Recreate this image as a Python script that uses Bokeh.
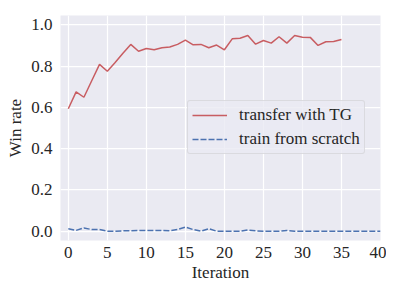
from bokeh.plotting import figure
from bokeh.models import Range1d, PrintfTickFormatter, Legend, LegendItem
from bokeh.embed import file_html
from bokeh.resources import INLINE

iterations_tg = list(range(0, 36))
win_tg = [0.593, 0.675, 0.649, 0.729, 0.808, 0.775, 0.817, 0.862, 0.905, 0.872,
          0.885, 0.879, 0.889, 0.892, 0.905, 0.926, 0.903, 0.905, 0.889, 0.902,
          0.879, 0.932, 0.935, 0.948, 0.906, 0.924, 0.911, 0.942, 0.911, 0.948,
          0.940, 0.939, 0.900, 0.918, 0.919, 0.929]

iterations_scratch = list(range(0, 41))
win_scratch = [0.012, 0.004, 0.016, 0.008, 0.008, 0.0, 0.0, 0.002, 0.002, 0.004,
               0.004, 0.004, 0.004, 0.002, 0.008, 0.020, 0.008, 0.0, 0.012, 0.0,
               0.0, 0.0, 0.0, 0.006, 0.002, 0.0, 0.0, 0.0, 0.004, 0.0,
               0.0, 0.0, 0.0, 0.0, 0.0, 0.0, 0.0, 0.0, 0.0, 0.0, 0.0]

x_ticks = [0, 5, 10, 15, 20, 25, 30, 35, 40]
y_ticks = [0.0, 0.2, 0.4, 0.6, 0.8, 1.0]

FONT = "Liberation Serif"
TEXT = "#262626"

p = figure(frame_width=320, frame_height=225, output_backend="svg", toolbar_location=None,
           x_range=Range1d(-1, 40), y_range=Range1d(-0.045, 1.045),
           min_border_left=60, min_border_right=6, min_border_top=15, min_border_bottom=46)

p.background_fill_color = "#EAEAF2"
p.border_fill_color = "white"
p.outline_line_color = None

for g in (p.xgrid, p.ygrid):
    g.grid_line_color = "white"
    g.grid_line_width = 1.25

p.xaxis.ticker = x_ticks
p.yaxis.ticker = y_ticks
p.yaxis.formatter = PrintfTickFormatter(format="%.1f")

for ax in (p.xaxis[0], p.yaxis[0]):
    ax.axis_line_color = None
    ax.major_tick_line_color = None
    ax.minor_tick_line_color = None
    ax.major_tick_out = 0
    ax.major_tick_in = 0
    ax.minor_tick_out = 0
    ax.minor_tick_in = 0
    ax.major_label_text_font = FONT
    ax.major_label_text_font_style = "normal"
    ax.major_label_text_font_size = "17px"
    ax.major_label_text_color = TEXT
    ax.axis_label_text_font = FONT
    ax.axis_label_text_font_size = "17px"
    ax.axis_label_text_font_style = "normal"
    ax.axis_label_text_color = TEXT

p.xaxis.axis_label = "Iteration"
p.yaxis.axis_label = "Win rate"
p.xaxis.major_label_standoff = 6
p.xaxis.axis_label_standoff = 2
p.yaxis.major_label_standoff = 8
p.yaxis.axis_label_standoff = 3

r1 = p.line(iterations_tg, win_tg, line_color="#C44E52", line_width=1.5, line_alpha=0.9)
r2 = p.line(iterations_scratch, win_scratch, line_color="#4C72B0", line_width=1.5,
            line_dash="6 2")

legend = Legend(items=[LegendItem(label="transfer with TG", renderers=[r1]),
                       LegendItem(label="train from scratch", renderers=[r2])],
                location=(127, 86))
legend.label_text_font = FONT
legend.label_text_font_size = "17px"
legend.label_text_color = TEXT
legend.background_fill_color = "#EAEAF2"
legend.background_fill_alpha = 0.8
legend.border_line_color = "#cccccc"
legend.border_line_width = 1
legend.border_radius = 3
legend.padding = 4
legend.margin = 0
legend.spacing = 4
legend.label_height = 20
legend.glyph_height = 20
legend.glyph_width = 35
legend.label_standoff = 12
p.add_layout(legend, "center")

open("out.html", "w").write(file_html(p, INLINE))
